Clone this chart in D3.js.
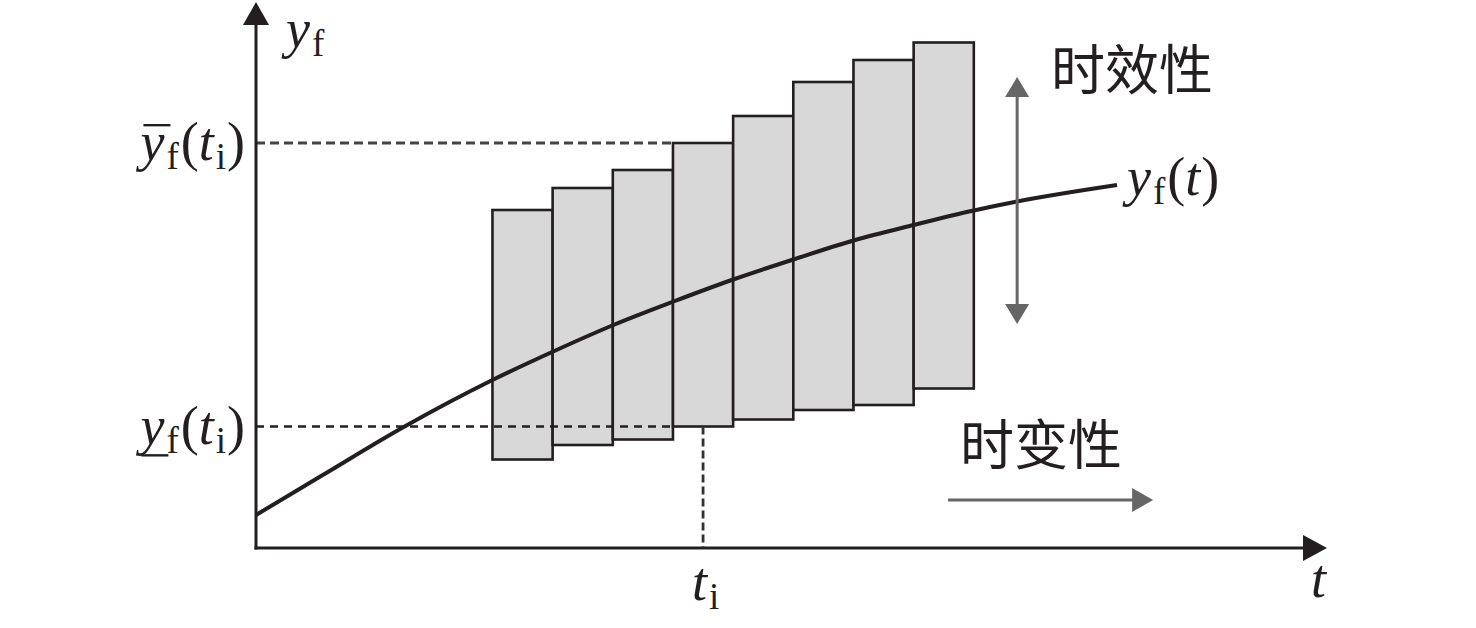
<!DOCTYPE html>
<html>
<head>
<meta charset="utf-8">
<script src="https://cdn.jsdelivr.net/npm/d3@7/dist/d3.min.js"></script>
<style>
  html, body { margin: 0; padding: 0; background: #fff; }
  svg { display: block; }
</style>
</head>
<body>
<svg id="chart" width="1476" height="628"></svg>
<script>
// ---- data ----
const barStart  = [3.93, 4.93, 5.93, 6.93, 7.93, 8.93, 9.93, 10.93];
const barWidth  = 1;
const barTop    = [6.76, 7.20, 7.56, 8.10, 8.64, 9.32, 9.76, 10.11];
const barBottom = [1.77, 2.06, 2.17, 2.43, 2.57, 2.76, 2.86, 3.19];
const curveT = [0, 1.11, 2.44, 3.93, 4.94, 5.94, 6.94, 7.93, 8.93, 9.93, 10.93, 11.93, 12.65, 14.31];
const curveY = [0.66, 1.46, 2.41, 3.36, 3.93, 4.46, 4.93, 5.37, 5.77, 6.15, 6.46, 6.75, 6.93, 7.26];
const tI = 7.43;          // t_i
const yUpperI = 8.10;     // upper bound at t_i
const yLowerI = 2.43;     // lower bound at t_i
const labelTimeliness = "时效性";
const labelTimeVarying = "时变性";

// ---- layout ----
const svg = d3.select("#chart");
const x = d3.scaleLinear().domain([0, 17.8]).range([256, 1327]);
const y = d3.scaleLinear().domain([0, 10]).range([548, 48]);
const xMax = 17.8, yMax = 10.92;
const ink = "#231f20", gray = "#666666";
const serif = "'Liberation Serif', 'Times New Roman', serif";
const cjk = "'Noto Sans CJK SC', sans-serif";

// bars
svg.append("g").selectAll("rect")
  .data(barStart.map((s, i) => ({s, top: barTop[i], bot: barBottom[i]})))
  .join("rect")
  .attr("x", d => x(d.s))
  .attr("width", d => x(d.s + barWidth) - x(d.s))
  .attr("y", d => y(d.top))
  .attr("height", d => y(d.bot) - y(d.top))
  .attr("fill", "#d9d8d8")
  .attr("stroke", ink)
  .attr("stroke-width", 2.6);

// dashed guide lines
svg.append("line")
  .attr("x1", x(0)).attr("x2", x(barStart[3]))
  .attr("y1", y(yUpperI)).attr("y2", y(yUpperI))
  .attr("stroke", "#444").attr("stroke-width", 3).attr("stroke-dasharray", "9,5");
svg.append("line")
  .attr("x1", x(0)).attr("x2", x(barStart[3]))
  .attr("y1", y(yLowerI)).attr("y2", y(yLowerI))
  .attr("stroke", ink).attr("stroke-width", 2.3).attr("stroke-dasharray", "8,6");
svg.append("line")
  .attr("x1", x(tI)).attr("x2", x(tI))
  .attr("y1", y(yLowerI)).attr("y2", y(0))
  .attr("stroke", "#333").attr("stroke-width", 2.8).attr("stroke-dasharray", "8,4");

// curve
const line = d3.line().x(d => x(d[0])).y(d => y(d[1])).curve(d3.curveMonotoneX);
svg.append("path")
  .attr("d", line(curveT.map((t, i) => [t, curveY[i]])))
  .attr("fill", "none").attr("stroke", ink).attr("stroke-width", 4);

// axes
svg.append("line")
  .attr("x1", x(0)).attr("x2", x(0)).attr("y1", y(0) + 1.5).attr("y2", y(yMax) + 20)
  .attr("stroke", ink).attr("stroke-width", 3);
svg.append("line")
  .attr("x1", x(0) - 1.5).attr("x2", x(xMax) - 20).attr("y1", y(0)).attr("y2", y(0))
  .attr("stroke", ink).attr("stroke-width", 3);
function tri(tipX, tipY, dir, len, half, color) {
  let pts;
  if (dir === "up") pts = [[tipX, tipY], [tipX - half, tipY + len], [tipX + half, tipY + len]];
  if (dir === "down") pts = [[tipX, tipY], [tipX - half, tipY - len], [tipX + half, tipY - len]];
  if (dir === "right") pts = [[tipX, tipY], [tipX - len, tipY - half], [tipX - len, tipY + half]];
  svg.append("path").attr("d", "M" + pts.map(p => p.join(",")).join("L") + "Z").attr("fill", color);
}
tri(x(0), y(yMax), "up", 23, 13, ink);
tri(x(xMax), y(0), "right", 24, 13, ink);

// timeliness double arrow
const arrowT = 12.65, arrowTop = 9.42, arrowBot = 4.48;
svg.append("line")
  .attr("x1", x(arrowT)).attr("x2", x(arrowT))
  .attr("y1", y(arrowTop) + 15).attr("y2", y(arrowBot) - 15)
  .attr("stroke", gray).attr("stroke-width", 3);
tri(x(arrowT), y(arrowTop), "up", 20, 12, gray);
tri(x(arrowT), y(arrowBot), "down", 20, 12, gray);

// time-varying arrow
const hArrowY = 0.96, hArrowT0 = 11.5, hArrowT1 = 14.91;
svg.append("line")
  .attr("x1", x(hArrowT0)).attr("x2", x(hArrowT1) - 15)
  .attr("y1", y(hArrowY)).attr("y2", y(hArrowY))
  .attr("stroke", gray).attr("stroke-width", 3);
tri(x(hArrowT1), y(hArrowY), "right", 21, 12, gray);

// ---- text labels ----
const F = 54, S = 37, SH = 9;
function mathLabel(px, py, parts, anchor) {
  const t = svg.append("text").attr("x", px).attr("y", py)
    .attr("font-family", serif).attr("font-size", F).attr("fill", ink)
    .attr("text-anchor", anchor || "start");
  let shifted = false;
  parts.forEach(p => {
    const ts = t.append("tspan").text(p.s);
    if (p.i) ts.attr("font-style", "italic");
    if (p.sub && !shifted) { ts.attr("font-size", S).attr("dy", SH); shifted = true; }
    else if (p.sub) ts.attr("font-size", S);
    else if (!p.sub && shifted) { ts.attr("dy", -SH); shifted = false; }
    if (p.dx) ts.attr("dx", p.dx);
  });
  return t;
}
// bar over / under the first glyph (the "y"), measured from the rendered text
function markFirstGlyph(textSel, baseline, where) {
  const e = textSel.node().getExtentOfChar(0);
  const yy = where === "over" ? baseline - F * 0.645 : baseline + F * 0.21;
  const x1 = where === "over" ? e.x + 3 : e.x + 1;
  svg.append("line")
    .attr("x1", x1).attr("x2", x1 + 27)
    .attr("y1", yy).attr("y2", yy)
    .attr("stroke", ink).attr("stroke-width", 2.4);
}
// y_f axis label
mathLabel(286, 47, [{s: "y", i: true}, {s: "f", sub: true, dx: 2}]);
// upper bound
const upBase = 160, loBase = 444;
const upLab = mathLabel(245, upBase, [{s: "y", i: true}, {s: "f", sub: true, dx: 2}, {s: "(", dx: 2}, {s: "t", i: true}, {s: "i", sub: true, dx: 2}, {s: ")", dx: 1}], "end");
// lower bound
const loLab = mathLabel(245, loBase, [{s: "y", i: true}, {s: "f", sub: true, dx: 2}, {s: "(", dx: 2}, {s: "t", i: true}, {s: "i", sub: true, dx: 2}, {s: ")", dx: 1}], "end");
markFirstGlyph(upLab, upBase, "over");
markFirstGlyph(loLab, loBase, "under");
// curve label
mathLabel(1127, 195, [{s: "y", i: true}, {s: "f", sub: true, dx: 2}, {s: "(", dx: 2}, {s: "t", i: true}, {s: ")", dx: 1}]);
// t_i tick label
mathLabel(x(tI) - 11, 600, [{s: "t", i: true}, {s: "i", sub: true, dx: 2}]);
// t axis label
mathLabel(1311, 597, [{s: "t", i: true}]);

// Chinese labels
svg.append("text").attr("x", 1051).attr("y", 90)
  .attr("font-family", cjk).attr("font-size", 54).attr("fill", ink)
  .text(labelTimeliness);
svg.append("text").attr("x", 960).attr("y", 465)
  .attr("font-family", cjk).attr("font-size", 54).attr("fill", ink)
  .text(labelTimeVarying);
</script>
</body>
</html>
